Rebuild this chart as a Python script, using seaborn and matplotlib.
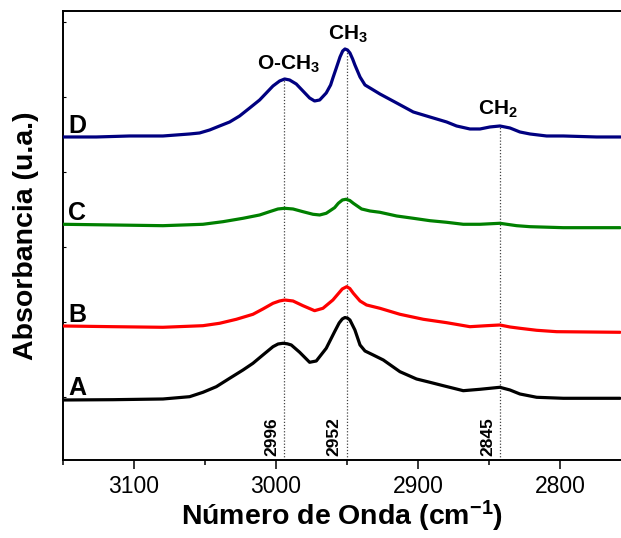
import pandas as pd
import matplotlib
matplotlib.use("Agg")
import matplotlib.pyplot as plt
import seaborn as sns

# ---------------------------------------------------------------
# data (wavenumber cm-1, absorbance a.u. with offsets)
# ---------------------------------------------------------------
wn_D = [3150, 3126.5, 3103.1, 3079.6, 3060.8, 3053.8, 3046.7, 3039.7, 3032.6, 3025.6,
        3018.5, 3011.5, 3006.8, 3002.1, 2997.4, 2993.9, 2990.4, 2985.7, 2981.0, 2976.3,
        2972.8, 2969.2, 2964.6, 2961.5, 2959.9, 2957.5, 2954.9, 2953.0, 2951.4, 2949.6,
        2947.9, 2946.0, 2944.4, 2940.8, 2937.3, 2932.6, 2926.8, 2915.0, 2903.3, 2891.6,
        2884.5, 2879.8, 2872.8, 2863.4, 2856.3, 2849.3, 2842.3, 2835.2, 2828.2, 2821.1,
        2809.4, 2797.6, 2774.2, 2757.3]
abs_D = [3.23, 3.23, 3.24, 3.24, 3.26, 3.27, 3.30, 3.34, 3.38, 3.44,
         3.52, 3.60, 3.67, 3.74, 3.79, 3.81, 3.80, 3.76, 3.69, 3.62,
         3.59, 3.60, 3.67, 3.75, 3.82, 3.92, 4.03, 4.09, 4.11, 4.10,
         4.07, 4.01, 3.95, 3.83, 3.75, 3.71, 3.66, 3.57, 3.48, 3.43,
         3.40, 3.38, 3.34, 3.31, 3.31, 3.33, 3.34, 3.32, 3.28, 3.26,
         3.24, 3.24, 3.23, 3.23]

wn_C = [3150, 3114.8, 3079.6, 3051.4, 3037.3, 3023.2, 3011.5, 3004.5, 2998.6, 2993.9,
        2988.0, 2981.0, 2973.9, 2969.2, 2964.6, 2958.7, 2956.1, 2953.2, 2950.7, 2948.0,
        2945.5, 2939.7, 2933.8, 2926.8, 2915.0, 2903.3, 2891.6, 2879.8, 2868.1, 2856.3,
        2842.3, 2830.5, 2821.1, 2797.6, 2757.7]
abs_C = [2.357, 2.35, 2.343, 2.357, 2.383, 2.417, 2.45, 2.483, 2.51, 2.517,
         2.51, 2.483, 2.457, 2.45, 2.467, 2.523, 2.567, 2.60, 2.607, 2.595,
         2.567, 2.51, 2.49, 2.477, 2.44, 2.417, 2.393, 2.377, 2.357, 2.357,
         2.367, 2.343, 2.333, 2.323, 2.323]

wn_B = [3150, 3114.8, 3079.6, 3051.4, 3039.7, 3027.9, 3016.2, 3009.2, 3002.1, 2997.5,
        2993.9, 2988.0, 2981.0, 2972.8, 2966.9, 2959.9, 2953.3, 2950.2, 2948.0, 2945.5,
        2940.8, 2936.2, 2926.8, 2912.7, 2896.2, 2879.8, 2863.4, 2851.6, 2842.3, 2835.2,
        2828.2, 2816.4, 2802.3, 2757.7]
abs_B = [1.34, 1.333, 1.327, 1.343, 1.367, 1.407, 1.457, 1.51, 1.567, 1.59,
         1.60, 1.59, 1.543, 1.493, 1.517, 1.60, 1.71, 1.733, 1.715, 1.667,
         1.59, 1.55, 1.517, 1.457, 1.407, 1.373, 1.333, 1.343, 1.35, 1.33,
         1.317, 1.297, 1.283, 1.277]

wn_A = [3150, 3114.8, 3079.6, 3060.8, 3051.4, 3042.0, 3032.6, 3023.2, 3016.2, 3009.2,
        3002.1, 2998.5, 2995.1, 2992.0, 2989.2, 2983.3, 2976.3, 2971.6, 2964.6, 2958.7,
        2955.5, 2953.3, 2951.4, 2949.5, 2947.9, 2944.4, 2940.8, 2937.3, 2931.5, 2924.4,
        2912.7, 2901.0, 2891.6, 2882.2, 2868.1, 2856.3, 2842.3, 2835.2, 2828.2, 2816.4,
        2797.6, 2757.7]
abs_A = [0.60, 0.603, 0.61, 0.633, 0.677, 0.733, 0.817, 0.90, 0.967, 1.05,
         1.133, 1.16, 1.167, 1.162, 1.15, 1.077, 0.977, 0.99, 1.117, 1.283,
         1.37, 1.41, 1.425, 1.418, 1.40, 1.30, 1.15, 1.09, 1.05, 1.00,
         0.883, 0.81, 0.777, 0.743, 0.693, 0.707, 0.727, 0.70, 0.66, 0.627,
         0.617, 0.617]

muestras = ["A", "B", "C", "D"]
colores = {"A": "#000000", "B": "#FF0000", "C": "#008000", "D": "#000080"}
label_y = {"A": 0.65, "B": 1.38, "C": 2.40, "D": 3.27}

# peak markers (position, top of dotted line, printed label)
pico_pos = [2994, 2950, 2842]
pico_top = [3.81, 4.08, 3.33]
pico_txt = ["2996", "2952", "2845"]

# ---------------------------------------------------------------
df = pd.concat([
    pd.DataFrame({"wn": wn_A, "abs": abs_A, "muestra": "A"}),
    pd.DataFrame({"wn": wn_B, "abs": abs_B, "muestra": "B"}),
    pd.DataFrame({"wn": wn_C, "abs": abs_C, "muestra": "C"}),
    pd.DataFrame({"wn": wn_D, "abs": abs_D, "muestra": "D"}),
], ignore_index=True)

sns.set_style("white")
plt.rcParams["font.family"] = ["Liberation Sans", "DejaVu Sans"]
plt.rcParams["text.color"] = "black"
plt.rcParams["axes.labelcolor"] = "black"
plt.rcParams["xtick.color"] = "black"
plt.rcParams["ytick.color"] = "black"
plt.rcParams["mathtext.fontset"] = "custom"
plt.rcParams["mathtext.rm"] = "Liberation Sans"
plt.rcParams["mathtext.bf"] = "Liberation Sans:bold"
plt.rcParams["mathtext.default"] = "bf"

fig = plt.figure(figsize=(6.21, 5.38), dpi=100)
ax = fig.add_axes([0.1014, 0.145, 0.8986, 0.8346])

# dotted reference lines first so curves sit on top
ax.vlines(pico_pos, 0, pico_top, colors="#444444", linestyles=(0, (1, 1.5)), lw=0.9, zorder=1)

sns.lineplot(data=df, x="wn", y="abs", hue="muestra", palette=colores, hue_order=muestras,
             sort=False, estimator=None, legend=False, lw=2.3, ax=ax, zorder=3)
for line in ax.get_lines():
    line.set_solid_joinstyle("round")
    line.set_solid_capstyle("round")

for m in muestras:
    ax.text(3146.5, label_y[m], m, fontsize=18, fontweight="bold", ha="left", va="baseline")

ax.text(3013.5, 3.90, r"O-CH$_{3}$", fontsize=15, fontweight="bold", ha="left", va="baseline")
ax.text(2963.5, 4.20, r"CH$_{3}$", fontsize=15, fontweight="bold", ha="left", va="baseline")
ax.text(2857.5, 3.45, r"CH$_{2}$", fontsize=15, fontweight="bold", ha="left", va="baseline")

for pos, txt in zip(pico_pos, pico_txt):
    ax.text(pos + 9, 0.04, txt, rotation=90, fontsize=12.5, fontweight="bold",
            ha="center", va="bottom")

ax.set_xlim(3150, 2757)
ax.set_ylim(0, 4.49)
ax.set_xticks([3100, 3000, 2900, 2800])
ax.set_xticks([3150, 3050, 2950, 2850], minor=True)
ax.set_yticks([0.63, 1.38, 2.13, 2.88, 3.63, 4.38])
ax.set_yticklabels([])
ax.tick_params(axis="x", which="major", direction="out", length=6.5, width=1.1,
               labelsize=16.5, pad=4, bottom=True)
ax.tick_params(axis="x", which="minor", direction="out", length=3.5, width=1.1, bottom=True)
ax.tick_params(axis="y", which="major", direction="in", length=2.5, width=0.8, left=True)

for s in ["left", "bottom", "top"]:
    ax.spines[s].set_linewidth(1.4)
    ax.spines[s].set_color("black")
ax.spines["right"].set_visible(False)

ax.set_xlabel(r"Número de Onda (cm$^{-1}$)", fontsize=20.5, fontweight="bold", labelpad=1)
ax.set_ylabel("Absorbancia (u.a.)", fontsize=20.5, fontweight="bold", labelpad=14)

fig.savefig("out.png", dpi=100)
